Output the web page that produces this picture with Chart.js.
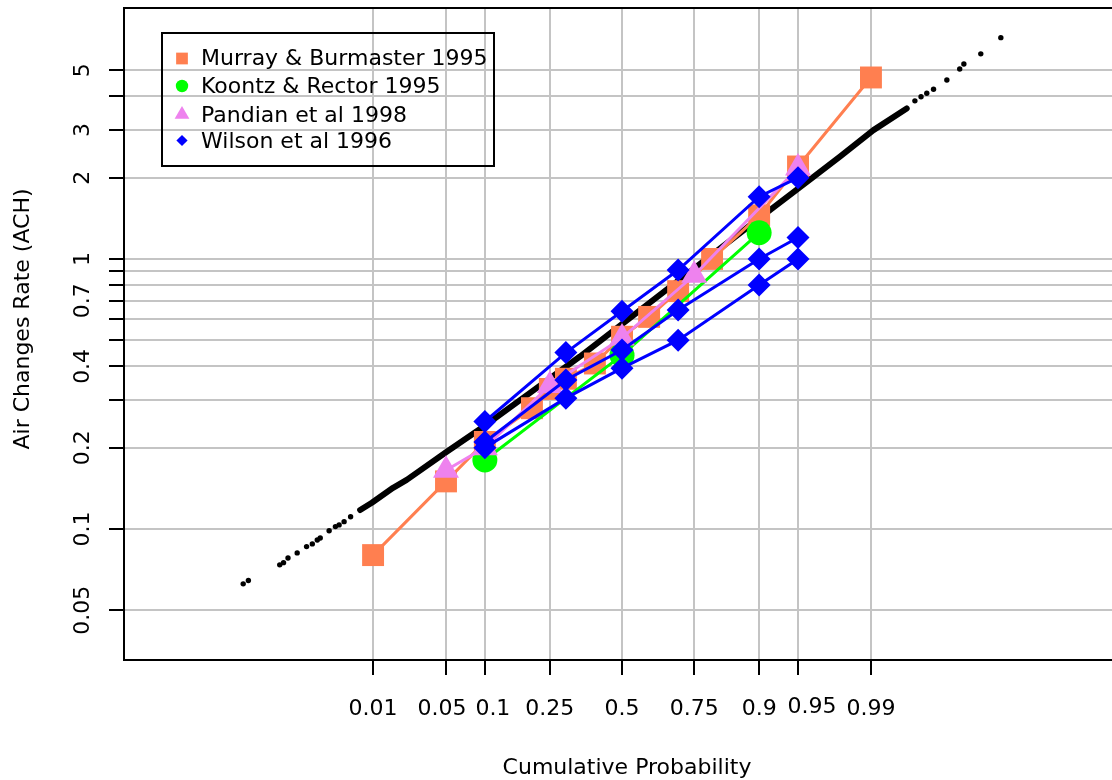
<!DOCTYPE html>
<html>
<head>
<meta charset="utf-8">
<title>Air Changes Rate</title>
<script src="https://cdn.jsdelivr.net/npm/chart.js@4/dist/chart.umd.min.js"></script>
<style>
  html, body { margin: 0; padding: 0; background: #fff; overflow: hidden; }
</style>
</head>
<body>
<canvas id="chart" width="1112" height="780"></canvas>
<script>
// Cumulative probability ticks on the x axis and ACH grid on the y axis
const probTicks = [0.01, 0.05, 0.1, 0.25, 0.5, 0.75, 0.9, 0.95, 0.99];
const yGrid = [0.05, 0.1, 0.2, 0.3, 0.4, 0.5, 0.6, 0.7, 0.8, 0.9, 1, 2, 3, 4, 5];
const yLabels = [0.05, 0.1, 0.2, 0.4, 0.7, 1, 2, 3, 5];

// Murray & Burmaster 1995
const murrayP = [0.01, 0.05, 0.1, 0.2, 0.25, 0.3, 0.4, 0.5, 0.6, 0.7, 0.8, 0.9, 0.95, 0.99];
const murrayACH = [0.08, 0.15, 0.21, 0.28, 0.33, 0.36, 0.41, 0.515, 0.61, 0.76, 1.0, 1.45, 2.2, 4.7];

// Koontz & Rector 1995
const koontzP = [0.1, 0.5, 0.9];
const koontzACH = [0.18, 0.44, 1.25];

// Pandian et al 1998
const pandianP = [0.05, 0.1, 0.25, 0.5, 0.75, 0.95];
const pandianACH = [0.165, 0.2, 0.34, 0.51, 0.87, 2.17];

// Wilson et al 1996 (three regions)
const wilsonP = [0.1, 0.3, 0.5, 0.7, 0.9, 0.95];
const wilsonA = [0.25, 0.45, 0.64, 0.91, 1.7, 2.0];
const wilsonB = [0.21, 0.356, 0.46, 0.647, 1.0, 1.2];
const wilsonC = [0.2, 0.305, 0.394, 0.5, 0.8, 1.0];

// simulated sample: dense middle and sparse tails
const bandP = [0.0072, 0.0097, 0.0162, 0.0221, 0.0507, 0.0975, 0.195, 0.347, 0.5, 0.706, 0.901, 0.963, 0.979, 0.9906, 0.9961];
const bandACH = [0.1175, 0.125, 0.142, 0.152, 0.193, 0.239, 0.319, 0.435, 0.573, 0.84, 1.42, 2.01, 2.39, 3.0, 3.61];
const tailP = [0.0002, 0.00024, 0.00069, 0.00078, 0.0009, 0.0012, 0.0016, 0.0019, 0.0022, 0.0024, 0.0031, 0.0037, 0.0041, 0.0047, 0.0056,
               0.9969, 0.9974, 0.9978, 0.9982, 0.9988, 0.9992, 0.9993, 0.9996, 0.9998];
const tailACH = [0.0626, 0.0644, 0.0736, 0.075, 0.078, 0.0815, 0.086, 0.088, 0.091, 0.0926, 0.0984, 0.102, 0.1035, 0.1064, 0.111,
                 3.85, 3.99, 4.11, 4.25, 4.6, 5.05, 5.27, 5.75, 6.6];

const AXIS_FONT = '22px "DejaVu Sans"';
const LEGEND_FONT = '22px "DejaVu Sans"';
// crowded x labels are pushed sideways a little so they don't run together
const labelNudge = { 0.05: -4, 0.1: 8, 0.95: 14 };

// inverse normal CDF (Acklam) - the x axis is a probit scale
function qnorm(p) {
  const a = [-3.969683028665376e+01, 2.209460984245205e+02, -2.759285104469687e+02, 1.383577518672690e+02, -3.066479806614716e+01, 2.506628277459239e+00];
  const b = [-5.447609879822406e+01, 1.615858368580409e+02, -1.556989798598866e+02, 6.680131188771972e+01, -1.328068155288572e+01];
  const c = [-7.784894002430293e-03, -3.223964580411365e-01, -2.400758277161838e+00, -2.549732539343734e+00, 4.374664141464968e+00, 2.938163982698783e+00];
  const d = [7.784695709041462e-03, 3.224671290700398e-01, 2.445134137142996e+00, 3.754408661907416e+00];
  const lo = 0.02425;
  let q, r;
  if (p < lo) {
    q = Math.sqrt(-2 * Math.log(p));
    return (((((c[0]*q+c[1])*q+c[2])*q+c[3])*q+c[4])*q+c[5]) / ((((d[0]*q+d[1])*q+d[2])*q+d[3])*q+1);
  }
  if (p > 1 - lo) {
    q = Math.sqrt(-2 * Math.log(1 - p));
    return -(((((c[0]*q+c[1])*q+c[2])*q+c[3])*q+c[4])*q+c[5]) / ((((d[0]*q+d[1])*q+d[2])*q+d[3])*q+1);
  }
  q = p - 0.5; r = q * q;
  return (((((a[0]*r+a[1])*r+a[2])*r+a[3])*r+a[4])*r+a[5])*q / (((((b[0]*r+b[1])*r+b[2])*r+b[3])*r+b[4])*r+1);
}

const pts = (ps, vs) => ps.map((p, i) => ({ x: qnorm(p), y: vs[i] }));

function series(data, color, style, radius, order) {
  return {
    data, showLine: true, order,
    borderColor: color, backgroundColor: color, borderWidth: 3,
    pointStyle: style, pointRadius: radius, pointBorderWidth: 0,
    pointBackgroundColor: color
  };
}

const legendItems = [
  { text: 'Murray & Burmaster 1995', color: '#FF7F50', style: 'rect', r: 8.3, y: 58.5, base: 65 },
  { text: 'Koontz & Rector 1995', color: '#00FF00', style: 'circle', r: 6.2, y: 86, base: 93 },
  { text: 'Pandian et al 1998', color: '#EE82EE', style: 'triangle', r: 8.5, y: 114.5, base: 121.5 },
  { text: 'Wilson et al 1996', color: '#0000FF', style: 'rectRot', r: 5.6, y: 140.5, base: 148 }
];

// frame top, rotated y labels, x labels, titles and legend
const decor = {
  id: 'decor',
  afterDraw(chart) {
    const { ctx, chartArea: area, scales: { x, y } } = chart;
    ctx.save();
    ctx.strokeStyle = '#000';
    ctx.lineWidth = 2;
    ctx.beginPath();
    ctx.moveTo(area.left - 1, area.top);
    ctx.lineTo(area.right, area.top);
    ctx.stroke();

    ctx.fillStyle = '#000';
    ctx.font = AXIS_FONT;
    ctx.textAlign = 'center';
    ctx.textBaseline = 'alphabetic';
    probTicks.forEach(p => {
      const dx = labelNudge[p] || 0;
      ctx.fillText(String(p), x.getPixelForValue(qnorm(p)) + dx, p === 0.95 ? 713 : 715);
    });
    yLabels.forEach(v => {
      ctx.save();
      ctx.translate(89, y.getPixelForValue(v));
      ctx.rotate(-Math.PI / 2);
      ctx.fillText(String(v), 0, 0);
      ctx.restore();
    });

    ctx.fillText('Cumulative Probability', 627, 774);
    ctx.save();
    ctx.translate(29, 319);
    ctx.rotate(-Math.PI / 2);
    ctx.fillText('Air Changes Rate (ACH)', 0, 0);
    ctx.restore();

    // legend box
    ctx.lineWidth = 2;
    ctx.strokeRect(162, 33, 332, 133);
    ctx.font = LEGEND_FONT;
    ctx.textAlign = 'left';
    legendItems.forEach(it => {
      ctx.fillStyle = it.color;
      Chart.helpers.drawPoint(ctx, { pointStyle: it.style, radius: it.r, rotation: 0, borderWidth: 0 }, 182, it.y);
      ctx.fillStyle = '#000';
      ctx.fillText(it.text, 201, it.base);
    });
    ctx.restore();
  }
};

const gridOpts = { color: '#c4c4c4', lineWidth: 2, tickColor: '#000', tickWidth: 2, tickLength: 15, drawTicks: true };

new Chart(document.getElementById('chart'), {
  type: 'scatter',
  data: {
    datasets: [
      { data: pts(bandP, bandACH), showLine: true, order: 10, borderColor: '#000', borderWidth: 6,
        borderCapStyle: 'round', borderJoinStyle: 'round', pointRadius: 0 },
      { data: pts(tailP, tailACH), showLine: false, order: 9, pointRadius: 2.7,
        pointBackgroundColor: '#000', pointBorderWidth: 0 },
      series(pts(murrayP, murrayACH), '#FF7F50', 'rect', 15.5, 4),
      series(pts(koontzP, koontzACH), '#00FF00', 'circle', 12.5, 3),
      series(pts(pandianP, pandianACH), '#EE82EE', 'triangle', 15, 2),
      series(pts(wilsonP, wilsonA), '#0000FF', 'rectRot', 11.5, 1),
      series(pts(wilsonP, wilsonB), '#0000FF', 'rectRot', 11.5, 1),
      series(pts(wilsonP, wilsonC), '#0000FF', 'rectRot', 11.5, 1)
    ]
  },
  options: {
    responsive: false,
    animation: false,
    events: [],
    layout: { autoPadding: false, padding: { top: 8, left: 0, right: 0, bottom: 0 } },
    plugins: { legend: { display: false }, tooltip: { enabled: false } },
    scales: {
      x: {
        type: 'linear', bounds: 'data', min: -4.654, max: 4.579,
        afterBuildTicks: s => { s.ticks = probTicks.map(p => ({ value: qnorm(p) })); },
        afterFit: s => { s.height = 120; },
        ticks: { display: false, autoSkip: false },
        grid: gridOpts,
        border: { color: '#000', width: 2 }
      },
      y: {
        type: 'logarithmic', bounds: 'data', min: 0.0327, max: 8.5,
        afterBuildTicks: s => { s.ticks = yGrid.map(v => ({ value: v })); },
        afterFit: s => { s.width = 124; },
        ticks: { display: false, autoSkip: false },
        grid: gridOpts,
        border: { color: '#000', width: 2 }
      }
    }
  },
  plugins: [decor]
});
</script>
</body>
</html>
